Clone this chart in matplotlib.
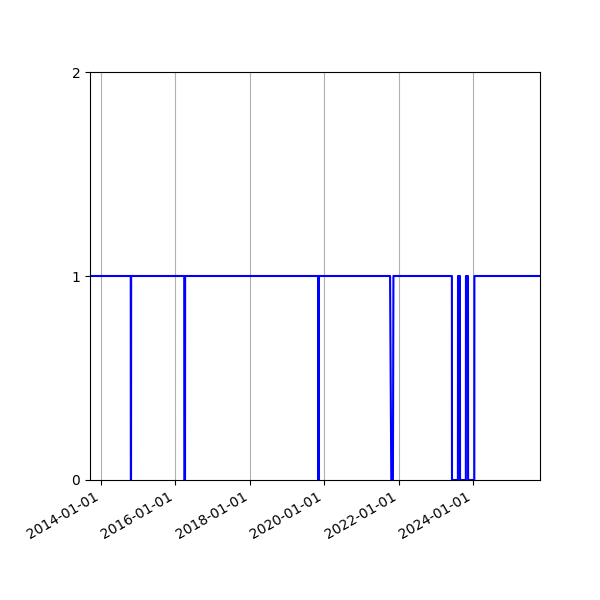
import matplotlib
matplotlib.use("Agg")
import matplotlib.pyplot as plt
import matplotlib.dates as mdates
import numpy as np

dates = ["2013-09-14",
         "2014-10-19", "2014-10-20", "2014-10-22", "2014-10-23",
         "2016-03-27", "2016-03-28", "2016-04-04", "2016-04-05",
         "2019-11-03", "2019-11-04", "2019-11-07", "2019-11-08",
         "2021-10-08", "2021-10-20", "2021-11-05", "2021-11-10",
         "2023-06-07", "2023-06-08", "2023-08-05", "2023-08-06",
         "2023-08-25", "2023-08-26", "2023-10-22", "2023-10-23",
         "2023-11-12", "2023-11-13", "2024-01-13", "2024-01-14",
         "2025-10-19"]
values = [1,
          1, 0, 0, 1,
          1, 0, 0, 1,
          1, 0, 0, 1,
          1, 0, 0, 1,
          1, 0, 0, 1,
          1, 0, 0, 1,
          1, 0, 0, 1,
          1]
y_ticks = [0, 1, 2]

x = np.array(dates, dtype="datetime64[D]")

fig, ax = plt.subplots(figsize=(6, 6), dpi=100)
ax.plot(x, values, color="blue", linewidth=1.5)
ax.set_xlim(x[0], x[-1])
ax.set_ylim(0, 2)
ax.set_yticks(y_ticks)
ax.xaxis.set_major_locator(mdates.YearLocator(2))
ax.xaxis.set_major_formatter(mdates.DateFormatter("%Y-%m-%d"))
ax.grid(axis="x")
fig.autofmt_xdate()
fig.subplots_adjust(left=0.15, bottom=0.2, right=0.9, top=0.88)
fig.savefig("out.png", dpi=100)
